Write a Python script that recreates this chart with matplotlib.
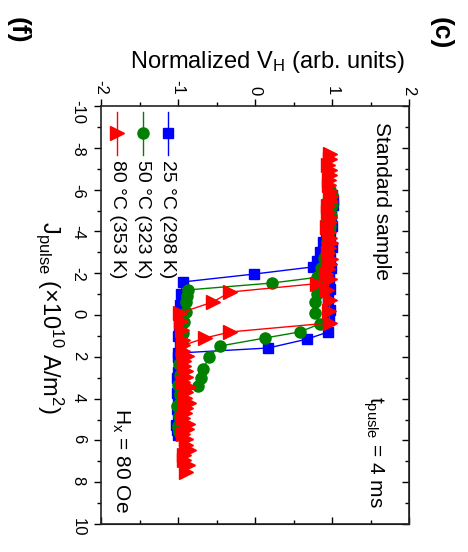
import matplotlib
matplotlib.use('Agg')
import matplotlib.pyplot as plt
from matplotlib.ticker import MultipleLocator

plt.rcParams['font.family'] = ['Liberation Sans', 'DejaVu Sans']
plt.rcParams['mathtext.fontset'] = 'custom'
plt.rcParams['mathtext.rm'] = 'Liberation Sans'
plt.rcParams['mathtext.it'] = 'Liberation Sans:italic'
plt.rcParams['axes.unicode_minus'] = False

# 25 C (298 K) - sweep up then back down
j25_up = [-5.75, -5.25, -4.75, -4.25, -3.75, -3.25, -2.75, -2.25, -1.75, -1.25, -0.75, -0.25,
          0.25, 0.81, 1.15, 1.58, 1.82, 2.3, 2.75, 3.25, 3.75, 4.25, 4.75, 5.25, 5.75]
v25_up = [1.00, 1.01, 0.99, 1.00, 0.98, 1.00, 0.97, 0.99, 0.96, 0.98, 0.95, 0.97,
          0.96, 0.95, 0.68, 0.17, -1.00, -0.97, -1.00, -0.98, -1.01, -0.99, -1.00, -1.02, -1.00]
j25_down = [5.5, 5.0, 4.5, 4.0, 3.5, 3.0, 2.5, 2.0, 1.5, 1.0, 0.5, 0.0,
            -0.5, -1.0, -1.58, -1.96, -2.3, -2.6, -3.0, -3.5, -4.0, -4.5, -5.0, -5.5]
v25_down = [-1.01, -0.99, -1.01, -1.00, -0.98, -1.01, -0.99, -1.00, -0.98, -1.00, -0.99, -0.97,
            -0.98, -0.96, -0.94, -0.01, 0.75, 0.80, 0.84, 0.88, 0.92, 0.96, 0.99, 1.01]

# 50 C (323 K)
j50_up = [-6.0, -5.5, -5.0, -4.5, -4.0, -3.5, -3.0, -2.5, -2.0, -1.5, -1.0, -0.6, -0.1,
          0.43, 0.81, 1.1, 1.48, 2.0, 2.6, 3.0, 3.4, 3.8, 4.3, 4.8, 5.3, 5.6]
v50_up = [0.97, 0.95, 0.97, 0.94, 0.96, 0.93, 0.95, 0.92, 0.90, 0.86, 0.80, 0.78, 0.78,
          0.84, 0.58, 0.13, -0.45, -0.60, -0.67, -0.70, -0.74, -0.97, -1.00, -0.98, -1.00, -0.99]
j50_down = [5.35, 4.85, 4.35, 3.85, 3.35, 2.85, 2.35, 1.85, 1.35, 0.85, 0.35, -0.15, -0.6,
            -0.9, -1.2, -1.53, -1.8, -2.25, -2.75, -3.25, -3.75, -4.25, -4.75, -5.25, -5.75]
v50_down = [-1.00, -0.99, -1.01, -0.98, -1.00, -0.97, -0.99, -0.96, -0.95, -0.93, -0.92, -0.90, -0.89,
            -0.88, -0.87, 0.22, 0.80, 0.86, 0.90, 0.93, 0.95, 0.97, 0.99, 1.00, 1.00]

# 80 C (353 K)
j80_up = [-7.7, -7.2, -6.7, -6.2, -5.7, -5.2, -4.7, -4.2, -3.7, -3.2, -2.7, -2.2, -1.7, -1.2, -0.7, -0.2,
          0.38, 0.81, 1.1, 1.45, 1.95, 2.45, 2.95, 3.45, 3.95, 4.45, 4.95, 5.45, 5.95, 6.45, 6.95, 7.5]
v80_up = [0.97, 0.95, 0.98, 0.96, 0.99, 0.95, 0.97, 0.94, 0.98, 0.96, 0.99, 0.95, 0.97, 0.94, 0.98, 0.96,
          0.97, -0.32, -0.65, -0.93, -0.88, -0.92, -0.90, -0.86, -0.91, -0.89, -0.93, -0.88, -0.90, -0.86, -0.92, -0.90]
j80_down = [7.2, 6.7, 6.2, 5.7, 5.2, 4.7, 4.2, 3.7, 3.2, 2.7, 2.2, 1.7, 1.2, 0.7, 0.3, -0.1,
            -0.62, -1.1, -1.5, -1.95, -2.45, -2.95, -3.45, -3.95, -4.45, -4.95, -5.45, -5.95, -6.45, -6.95, -7.45]
v80_down = [-0.87, -0.92, -0.89, -0.93, -0.87, -0.91, -0.86, -0.90, -0.93, -0.89, -0.92, -0.94, -0.93, -0.95, -0.96, -0.97,
            -0.55, -0.32, 0.80, 0.92, 0.97, 0.95, 0.99, 0.96, 0.98, 0.95, 0.99, 0.97, 0.96, 0.98, 0.97]

labels = ['25 °C (298 K)', '50 °C (323 K)', '80 °C (353 K)']
colors = ['#0000FF', '#008000', '#FF0000']
markers = ['s', 'o', '>']
msizes = [7.5, 8, 9.5]

series = [(j25_up + j25_down, v25_up + v25_down),
          (j50_up + j50_down, v50_up + v50_down),
          (j80_up + j80_down, v80_up + v80_down)]

W, H = 468, 552
fig = plt.figure(figsize=(W / 100, H / 100), dpi=100)
ax = fig.add_axes([101 / W, 1 - 524 / H, 308 / W, 418 / H])

# plot is drawn turned by 90 degrees: V_H runs across, J_pulse runs down
for (j, v), c, m, ms in zip(series, colors, markers, msizes):
    ax.plot(v, j, color=c, marker=m, markersize=ms, mec=c, mfc=c, lw=1.0)

ax.set_xlim(-2, 2)
ax.set_ylim(10, -10)
ax.xaxis.tick_top()
ax.xaxis.set_major_locator(MultipleLocator(1))
ax.xaxis.set_minor_locator(MultipleLocator(0.5))
ax.yaxis.set_major_locator(MultipleLocator(2))
ax.yaxis.set_minor_locator(MultipleLocator(1))
ax.tick_params(axis='x', which='both', direction='out', labelrotation=270, labelsize=12, pad=3)
ax.tick_params(axis='y', which='both', direction='out', labelrotation=270, labelsize=12, pad=6)
ax.tick_params(which='major', length=5, width=1)
ax.tick_params(which='minor', length=3, width=1)
for s in ax.spines.values():
    s.set_linewidth(1.2)
    s.set_color('#222222')

# inward ticks on the opposite sides
sx = ax.secondary_xaxis('bottom')
sx.xaxis.set_major_locator(MultipleLocator(1))
sx.xaxis.set_minor_locator(MultipleLocator(0.5))
sx.tick_params(which='both', direction='in', labelbottom=False, width=1)
sx.tick_params(which='major', length=5)
sx.tick_params(which='minor', length=3)
sy = ax.secondary_yaxis('right')
sy.yaxis.set_major_locator(MultipleLocator(2))
sy.yaxis.set_minor_locator(MultipleLocator(1))
sy.tick_params(which='both', direction='in', labelright=False, width=1)
sy.tick_params(which='major', length=5)
sy.tick_params(which='minor', length=3)

# hand-built vertical legend
leg_x = [0.2175, 0.136, 0.052]
for lx, lab, c, m, ms in zip(leg_x, labels, colors, markers, msizes):
    ax.plot([lx, lx], [0.985, 0.883], transform=ax.transAxes, color=c, lw=1.0, clip_on=False)
    ax.plot([lx], [0.935], transform=ax.transAxes, color=c, marker=m, markersize=ms, mec=c, clip_on=False)
    ax.text(lx, 0.871, lab, transform=ax.transAxes, rotation=270, ha='center', va='top', fontsize=14)

def fpos(x, y):
    return x / W, 1 - y / H

fig.text(*fpos(267, 68), r'Normalized V$_\mathregular{H}$ (arb. units)', ha='center', va='baseline', fontsize=17)
fig.text(*fpos(50, 318), r'J$_\mathregular{pulse}$ (×10$^\mathregular{10}$ A/m$^\mathregular{2}$)',
         rotation=270, ha='center', va='center', fontsize=17)
fig.text(*fpos(18, 30), '(f)', rotation=270, ha='center', va='center', fontsize=19, fontweight='bold')
fig.text(*fpos(441, 33), '(c)', rotation=270, ha='center', va='center', fontsize=19, fontweight='bold')
fig.text(*fpos(382, 201), 'Standard sample', rotation=270, ha='center', va='center', fontsize=15)
fig.text(*fpos(373, 452), r't$_\mathregular{pusle}$ = 4 ms', rotation=270, ha='center', va='center', fontsize=15)
fig.text(*fpos(121, 460), r'H$_\mathregular{x}$ = 80 Oe', rotation=270, ha='center', va='center', fontsize=15)

fig.savefig('out.png', dpi=100)
